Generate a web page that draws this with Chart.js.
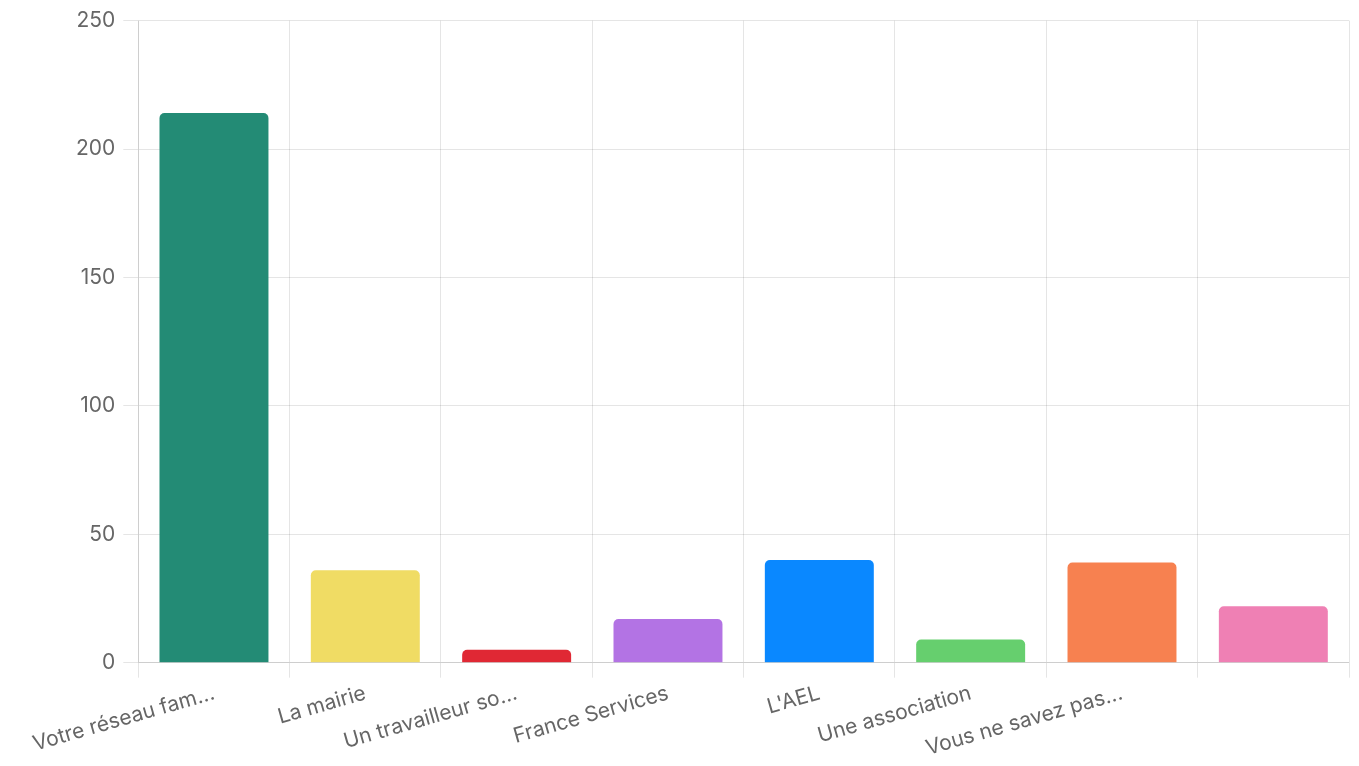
<!DOCTYPE html>
<html lang="fr">
<head>
    <meta charset="UTF-8">
    <title>Réponses</title>
    <script src="https://cdn.jsdelivr.net/npm/chart.js"></script>
    <style>
        html, body { margin: 0; padding: 0; background: #fff; }
        #wrap { width: 1359px; height: 766px; }
    </style>
</head>
<body>
    <div id="wrap"><canvas id="barChart"></canvas></div>
    <script>
        // categories (last one has no label in the picture)
        const labels = ['Votre réseau fam...', 'La mairie', 'Un travailleur so...', 'France Services',
                        "L'AEL", 'Une association', 'Vous ne savez pas...', ''];
        const values = [214, 36, 5, 17, 40, 9, 39, 22];
        const barColors = ['#238b75', '#f0dc64', '#e02834', '#b373e4',
                           '#0a88ff', '#66cf6e', '#f78150', '#ef80b4'];
        const yTicks = [0, 50, 100, 150, 200, 250];

        const tickFont = { family: 'Inter, sans-serif', size: 21 };

        var ctx = document.getElementById('barChart').getContext('2d');
        var chart = new Chart(ctx, {
            type: 'bar',
            data: {
                labels: labels,
                datasets: [{
                    data: values,
                    backgroundColor: barColors,
                    borderColor: barColors,
                    borderWidth: 0,
                    borderRadius: 5,
                    borderSkipped: 'bottom'
                }]
            },
            options: {
                responsive: true,
                maintainAspectRatio: false,
                animation: false,
                layout: { padding: { top: 12, right: 10, left: 68, bottom: 2 } },
                plugins: {
                    legend: { display: false },
                    tooltip: { enabled: false }
                },
                scales: {
                    x: {
                        grid: { color: 'rgba(0,0,0,0.1)', offset: true, tickLength: 15 },
                        ticks: {
                            color: '#666',
                            font: tickFont,
                            minRotation: 16,
                            maxRotation: 16,
                            autoSkip: false
                        }
                    },
                    y: {
                        min: yTicks[0],
                        max: yTicks[yTicks.length - 1],
                        afterBuildTicks: function (axis) {
                            axis.ticks = yTicks.map(v => ({ value: v }));
                        },
                        grid: { color: 'rgba(0,0,0,0.1)', tickLength: 15 },
                        ticks: {
                            color: '#666',
                            font: tickFont,
                            padding: 8
                        }
                    }
                }
            }
        });
    </script>
</body>
</html>
